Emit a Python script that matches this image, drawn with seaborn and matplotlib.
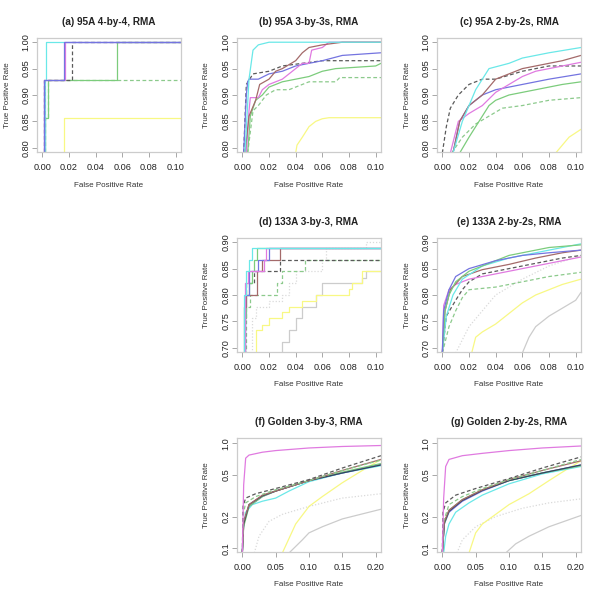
import numpy as np
import pandas as pd
import seaborn as sns
import matplotlib.pyplot as plt
from matplotlib.ticker import FixedLocator, FixedFormatter, NullLocator

sns.set_style("white")
plt.rcParams["font.family"] = ["Liberation Sans", "DejaVu Sans"]

# line styles per method
colors = {
    "cyan": "#6ae8e8", "brown": "#a46a6a", "orchid": "#e07ae0", "blue": "#7474e0",
    "dark": "#34445e", "green": "#7ccc7c", "green_d": "#8cca8c", "black_d": "#5a5a5a",
    "yellow": "#f8f884", "ltgray": "#dadada", "gray": "#cccccc",
}
dashes = {
    "green_d": (3, 2), "black_d": (3, 2), "ltgray": (1, 1.5),
}

# (a) 95A 4-by-4 (step curves)
a_yellow = ([0.016, 0.016, 0.104], [0.78, 0.857, 0.857])
a_green_d = ([0.002, 0.002, 0.004, 0.104], [0.78, 0.857, 0.929, 0.929])
a_green = ([0.0018, 0.0018, 0.004, 0.056, 0.104], [0.78, 0.857, 0.929, 1.0, 1.0])
a_cyan = ([0.002, 0.002, 0.003, 0.104], [0.78, 0.929, 1.0, 1.0])
a_black_d = ([0.0015, 0.0015, 0.022, 0.104], [0.78, 0.929, 1.0, 1.0])
a_orchid = ([0.0012, 0.0012, 0.017, 0.104], [0.78, 0.929, 1.0, 1.0])
a_blue = ([0.001, 0.001, 0.0165, 0.104], [0.78, 0.929, 1.0, 1.0])

# (b) 95A 3-by-3s
b_yellow = ([0.040, 0.041, 0.045, 0.050, 0.055, 0.060, 0.065, 0.104],
            [0.79, 0.805, 0.82, 0.84, 0.85, 0.855, 0.857, 0.857])
b_green_d = ([0.004, 0.008, 0.012, 0.018, 0.025, 0.035, 0.045, 0.050, 0.070, 0.073, 0.104],
             [0.79, 0.87, 0.88, 0.90, 0.91, 0.91, 0.92, 0.925, 0.925, 0.933, 0.933])
b_green = ([0.004, 0.006, 0.010, 0.015, 0.020, 0.030, 0.040, 0.050, 0.060, 0.070, 0.100, 0.104],
           [0.79, 0.86, 0.89, 0.90, 0.915, 0.925, 0.93, 0.935, 0.945, 0.95, 0.955, 0.96])
b_black_d = ([0.001, 0.003, 0.008, 0.020, 0.030, 0.045, 0.060, 0.104],
             [0.79, 0.92, 0.94, 0.945, 0.955, 0.96, 0.965, 0.965])
b_blue = ([0.001, 0.003, 0.004, 0.005, 0.012, 0.020, 0.030, 0.040, 0.050, 0.060, 0.075, 0.104],
          [0.79, 0.90, 0.925, 0.93, 0.93, 0.94, 0.945, 0.955, 0.96, 0.965, 0.975, 0.98])
b_orchid = ([0.003, 0.005, 0.006, 0.012, 0.015, 0.020, 0.030, 0.040, 0.045, 0.050, 0.052, 0.060, 0.065, 0.104],
            [0.79, 0.87, 0.895, 0.895, 0.91, 0.92, 0.93, 0.95, 0.96, 0.96, 0.985, 0.99, 1.0, 1.0])
b_brown = ([0.002, 0.005, 0.010, 0.013, 0.020, 0.025, 0.030, 0.040, 0.045, 0.050, 0.060, 0.075, 0.104],
           [0.79, 0.86, 0.89, 0.92, 0.93, 0.945, 0.95, 0.965, 0.98, 0.99, 0.995, 1.0, 1.0])
b_cyan = ([0.002, 0.005, 0.008, 0.012, 0.020, 0.104],
          [0.79, 0.93, 0.985, 0.995, 1.0, 1.0])

# (c) 95A 2-by-2s
c_yellow = ([0.085, 0.095, 0.104], [0.79, 0.82, 0.835])
c_green_d = ([0.007, 0.015, 0.025, 0.035, 0.045, 0.060, 0.070, 0.080, 0.104],
             [0.79, 0.82, 0.845, 0.86, 0.875, 0.88, 0.885, 0.89, 0.895])
c_green = ([0.013, 0.020, 0.025, 0.030, 0.035, 0.040, 0.050, 0.060, 0.070, 0.080, 0.090, 0.104],
           [0.79, 0.82, 0.84, 0.86, 0.88, 0.89, 0.90, 0.905, 0.91, 0.915, 0.92, 0.925])
c_black_d = ([0.000, 0.003, 0.006, 0.012, 0.020, 0.030, 0.040, 0.060, 0.080, 0.104],
             [0.79, 0.84, 0.875, 0.90, 0.92, 0.93, 0.93, 0.945, 0.955, 0.955])
c_blue = ([0.008, 0.013, 0.020, 0.030, 0.040, 0.060, 0.080, 0.104],
          [0.79, 0.85, 0.88, 0.90, 0.91, 0.92, 0.93, 0.94])
c_orchid = ([0.006, 0.012, 0.020, 0.030, 0.040, 0.050, 0.060, 0.070, 0.080, 0.090, 0.104],
            [0.79, 0.85, 0.865, 0.88, 0.905, 0.92, 0.935, 0.945, 0.95, 0.955, 0.962])
c_brown = ([0.008, 0.013, 0.020, 0.030, 0.040, 0.050, 0.060, 0.070, 0.080, 0.090, 0.104],
           [0.79, 0.85, 0.88, 0.90, 0.93, 0.94, 0.95, 0.955, 0.96, 0.965, 0.975])
c_cyan = ([0.008, 0.015, 0.020, 0.025, 0.030, 0.035, 0.050, 0.060, 0.080, 0.104],
          [0.79, 0.85, 0.88, 0.91, 0.93, 0.95, 0.96, 0.97, 0.98, 0.99])

# (d) 133A 3-by-3 (step curves)
d_ltgray = ([0.005, 0.007, 0.010, 0.020, 0.030, 0.035, 0.040, 0.060, 0.063, 0.093, 0.104],
            [0.69, 0.756, 0.778, 0.789, 0.80, 0.822, 0.845, 0.867, 0.889, 0.90, 0.90])
d_gray = ([0.027, 0.030, 0.035, 0.040, 0.045, 0.055, 0.060, 0.090, 0.093, 0.104],
          [0.69, 0.711, 0.733, 0.756, 0.778, 0.80, 0.822, 0.833, 0.845, 0.845])
d_yellow = ([0.009, 0.010, 0.015, 0.020, 0.030, 0.035, 0.045, 0.055, 0.080, 0.082, 0.090, 0.104],
            [0.69, 0.733, 0.744, 0.756, 0.767, 0.778, 0.789, 0.80, 0.811, 0.822, 0.845, 0.845])
d_green_d = ([0.001, 0.003, 0.006, 0.026, 0.030, 0.047, 0.104],
             [0.69, 0.778, 0.80, 0.822, 0.845, 0.867, 0.867])
d_black_d = ([0.0008, 0.002, 0.003, 0.009, 0.028, 0.104],
             [0.69, 0.80, 0.822, 0.845, 0.867, 0.867])
d_green = ([0.0005, 0.002, 0.003, 0.005, 0.007, 0.009, 0.011, 0.104],
           [0.69, 0.756, 0.80, 0.822, 0.845, 0.867, 0.889, 0.889])
d_brown = ([0.0005, 0.001, 0.003, 0.011, 0.015, 0.028, 0.104],
           [0.69, 0.778, 0.80, 0.845, 0.867, 0.889, 0.889])
d_blue = ([0.001, 0.002, 0.005, 0.012, 0.020, 0.104],
          [0.69, 0.80, 0.845, 0.867, 0.889, 0.889])
d_orchid = ([0.0008, 0.002, 0.004, 0.016, 0.018, 0.104],
            [0.69, 0.822, 0.845, 0.867, 0.889, 0.889])
d_cyan = ([0.0005, 0.001, 0.003, 0.005, 0.007, 0.104],
          [0.69, 0.80, 0.845, 0.867, 0.889, 0.889])

# (e) 133A 2-by-2s
e_gray = ([0.060, 0.065, 0.070, 0.080, 0.090, 0.100, 0.104],
          [0.69, 0.72, 0.74, 0.76, 0.775, 0.79, 0.805])
e_yellow = ([0.022, 0.025, 0.030, 0.040, 0.050, 0.060, 0.070, 0.080, 0.090, 0.104],
            [0.69, 0.72, 0.73, 0.745, 0.765, 0.785, 0.80, 0.81, 0.82, 0.83])
e_ltgray = ([0.010, 0.020, 0.030, 0.040, 0.060, 0.080, 0.104],
            [0.69, 0.74, 0.77, 0.80, 0.83, 0.855, 0.875])
e_green_d = ([0.000, 0.005, 0.010, 0.015, 0.020, 0.040, 0.060, 0.080, 0.104],
             [0.69, 0.74, 0.77, 0.795, 0.81, 0.815, 0.825, 0.835, 0.843])
e_black_d = ([0.000, 0.003, 0.010, 0.015, 0.020, 0.030, 0.050, 0.070, 0.090, 0.104],
             [0.69, 0.76, 0.79, 0.81, 0.825, 0.84, 0.85, 0.86, 0.87, 0.875])
e_orchid = ([0.000, 0.001, 0.005, 0.010, 0.020, 0.030, 0.050, 0.070, 0.090, 0.104],
            [0.69, 0.78, 0.81, 0.82, 0.83, 0.835, 0.845, 0.855, 0.865, 0.872])
e_brown = ([0.000, 0.002, 0.006, 0.015, 0.030, 0.050, 0.070, 0.090, 0.104],
           [0.69, 0.77, 0.81, 0.835, 0.848, 0.858, 0.87, 0.88, 0.885])
e_cyan = ([0.000, 0.003, 0.008, 0.015, 0.030, 0.050, 0.070, 0.090, 0.104],
          [0.69, 0.76, 0.80, 0.83, 0.855, 0.87, 0.88, 0.89, 0.897])
e_green = ([0.000, 0.002, 0.005, 0.010, 0.020, 0.030, 0.040, 0.050, 0.070, 0.080, 0.104],
           [0.69, 0.77, 0.80, 0.825, 0.845, 0.855, 0.865, 0.875, 0.885, 0.89, 0.895])
e_blue = ([0.000, 0.001, 0.005, 0.010, 0.020, 0.040, 0.060, 0.080, 0.104],
          [0.69, 0.77, 0.81, 0.835, 0.85, 0.865, 0.875, 0.88, 0.885])

# (f) Golden 3-by-3 (log y)
f_gray = ([0.070, 0.090, 0.100, 0.120, 0.150, 0.208], [0.09, 0.12, 0.14, 0.16, 0.19, 0.235])
f_ltgray = ([0.018, 0.025, 0.040, 0.060, 0.100, 0.150, 0.208], [0.09, 0.13, 0.18, 0.21, 0.25, 0.30, 0.33])
f_yellow = ([0.060, 0.080, 0.100, 0.120, 0.150, 0.180, 0.208], [0.09, 0.17, 0.25, 0.31, 0.42, 0.55, 0.70])
f_cyan = ([0.000, 0.001, 0.005, 0.015, 0.030, 0.050, 0.070, 0.100, 0.150, 0.208],
          [0.09, 0.15, 0.22, 0.26, 0.28, 0.30, 0.35, 0.43, 0.52, 0.61])
f_blue = ([0.000, 0.002, 0.010, 0.030, 0.050, 0.100, 0.150, 0.208], [0.09, 0.17, 0.25, 0.31, 0.35, 0.44, 0.52, 0.63])
f_green = ([0.000, 0.002, 0.010, 0.030, 0.050, 0.100, 0.150, 0.208], [0.09, 0.16, 0.25, 0.31, 0.35, 0.44, 0.53, 0.64])
f_dark = ([0.000, 0.002, 0.010, 0.030, 0.050, 0.100, 0.150, 0.208], [0.09, 0.17, 0.26, 0.315, 0.35, 0.44, 0.52, 0.62])
f_brown = ([0.000, 0.002, 0.010, 0.030, 0.050, 0.100, 0.150, 0.208], [0.09, 0.18, 0.26, 0.32, 0.35, 0.44, 0.55, 0.70])
f_green_d = ([0.000, 0.002, 0.005, 0.020, 0.050, 0.100, 0.150, 0.208], [0.09, 0.22, 0.27, 0.31, 0.36, 0.44, 0.55, 0.69])
f_black_d = ([0.000, 0.001, 0.005, 0.020, 0.050, 0.100, 0.150, 0.208], [0.09, 0.25, 0.30, 0.33, 0.37, 0.45, 0.58, 0.76])
f_orchid = ([0.000, 0.002, 0.005, 0.010, 0.030, 0.050, 0.100, 0.150, 0.208],
            [0.09, 0.40, 0.72, 0.77, 0.82, 0.85, 0.90, 0.93, 0.95])

# (g) Golden 2-by-2s (log y)
g_gray = ([0.095, 0.110, 0.130, 0.160, 0.208], [0.09, 0.11, 0.13, 0.16, 0.205])
g_ltgray = ([0.022, 0.030, 0.050, 0.080, 0.120, 0.160, 0.208], [0.09, 0.12, 0.16, 0.20, 0.24, 0.27, 0.295])
g_yellow = ([0.040, 0.050, 0.060, 0.080, 0.100, 0.130, 0.160, 0.180, 0.208],
            [0.09, 0.14, 0.17, 0.21, 0.26, 0.33, 0.44, 0.53, 0.68])
g_cyan = ([0.002, 0.005, 0.010, 0.020, 0.040, 0.060, 0.100, 0.150, 0.208],
          [0.09, 0.13, 0.17, 0.22, 0.27, 0.32, 0.41, 0.51, 0.60])
g_blue = ([0.000, 0.003, 0.010, 0.030, 0.060, 0.100, 0.150, 0.208], [0.09, 0.17, 0.22, 0.28, 0.35, 0.44, 0.52, 0.62])
g_green = ([0.000, 0.003, 0.010, 0.030, 0.060, 0.100, 0.150, 0.208], [0.09, 0.17, 0.23, 0.29, 0.36, 0.44, 0.52, 0.61])
g_dark = ([0.000, 0.003, 0.010, 0.030, 0.060, 0.100, 0.150, 0.208], [0.09, 0.175, 0.225, 0.285, 0.355, 0.44, 0.52, 0.62])
g_brown = ([0.000, 0.003, 0.010, 0.030, 0.060, 0.100, 0.150, 0.208], [0.09, 0.18, 0.23, 0.29, 0.36, 0.45, 0.55, 0.68])
g_green_d = ([0.000, 0.002, 0.010, 0.030, 0.060, 0.100, 0.150, 0.208], [0.09, 0.18, 0.26, 0.31, 0.37, 0.45, 0.55, 0.70])
g_black_d = ([0.000, 0.001, 0.005, 0.020, 0.050, 0.100, 0.150, 0.208], [0.09, 0.22, 0.27, 0.32, 0.37, 0.46, 0.58, 0.74])
g_orchid = ([0.000, 0.002, 0.005, 0.010, 0.030, 0.060, 0.100, 0.150, 0.208],
            [0.09, 0.30, 0.60, 0.70, 0.76, 0.80, 0.85, 0.90, 0.94])

panels = [
    ("(a) 95A 4-by-4, RMA", 0, 0, True, False,
     {"yellow": a_yellow, "green_d": a_green_d, "green": a_green, "cyan": a_cyan,
      "black_d": a_black_d, "orchid": a_orchid, "blue": a_blue}),
    ("(b) 95A 3-by-3s, RMA", 0, 1, False, False,
     {"yellow": b_yellow, "green_d": b_green_d, "green": b_green, "black_d": b_black_d,
      "blue": b_blue, "orchid": b_orchid, "brown": b_brown, "cyan": b_cyan}),
    ("(c) 95A 2-by-2s, RMA", 0, 2, False, False,
     {"yellow": c_yellow, "green_d": c_green_d, "green": c_green, "black_d": c_black_d,
      "blue": c_blue, "orchid": c_orchid, "brown": c_brown, "cyan": c_cyan}),
    ("(d) 133A 3-by-3, RMA", 1, 1, True, False,
     {"ltgray": d_ltgray, "gray": d_gray, "yellow": d_yellow, "green_d": d_green_d,
      "black_d": d_black_d, "green": d_green, "brown": d_brown, "blue": d_blue,
      "orchid": d_orchid, "cyan": d_cyan}),
    ("(e) 133A 2-by-2s, RMA", 1, 2, False, False,
     {"gray": e_gray, "yellow": e_yellow, "ltgray": e_ltgray, "green_d": e_green_d,
      "black_d": e_black_d, "orchid": e_orchid, "brown": e_brown, "cyan": e_cyan,
      "green": e_green, "blue": e_blue}),
    ("(f) Golden 3-by-3, RMA", 2, 1, False, True,
     {"gray": f_gray, "ltgray": f_ltgray, "yellow": f_yellow, "cyan": f_cyan,
      "blue": f_blue, "green": f_green, "dark": f_dark, "brown": f_brown,
      "green_d": f_green_d, "black_d": f_black_d, "orchid": f_orchid}),
    ("(g) Golden 2-by-2s, RMA", 2, 2, False, True,
     {"gray": g_gray, "ltgray": g_ltgray, "yellow": g_yellow, "cyan": g_cyan,
      "blue": g_blue, "green": g_green, "dark": g_dark, "brown": g_brown,
      "green_d": g_green_d, "black_d": g_black_d, "orchid": g_orchid}),
]

fig = plt.figure(figsize=(6, 6), dpi=100)
W, H = 600, 600

for title, row, col, steps, golden, series in panels:
    left = 37 + 200 * col
    top = 38 + 200 * row
    ax = fig.add_axes([left / W, 1 - (top + 114) / H, 144 / W, 114 / H])

    for name, (fpr, tpr) in series.items():
        df = pd.DataFrame({"fpr": fpr, "tpr": tpr})
        kw = dict(color=colors[name], linewidth=0.9)
        if name in dashes:
            kw["dashes"] = dashes[name]
        if steps:
            kw["drawstyle"] = "steps-post"
        sns.lineplot(data=df, x="fpr", y="tpr", ax=ax, estimator=None, sort=False, **kw)

    if golden:
        ax.set_yscale("log")
        ax.set_xlim(-0.008, 0.208)
        ax.set_ylim(0.092, 1.12)
        ax.yaxis.set_major_locator(FixedLocator([0.1, 0.2, 0.5, 1.0]))
        ax.yaxis.set_major_formatter(FixedFormatter(["0.1", "0.2", "0.5", "1.0"]))
        ax.yaxis.set_minor_locator(NullLocator())
        ax.set_xticks([0.0, 0.05, 0.10, 0.15, 0.20])
        ax.set_xticklabels(["0.00", "0.05", "0.10", "0.15", "0.20"])
    else:
        ax.set_xlim(-0.004, 0.104)
        ax.set_xticks([0.0, 0.02, 0.04, 0.06, 0.08, 0.10])
        ax.set_xticklabels(["0.00", "0.02", "0.04", "0.06", "0.08", "0.10"])
        if row == 0:
            ax.set_ylim(0.792, 1.008)
            yt = [0.80, 0.85, 0.90, 0.95, 1.00]
        else:
            ax.set_ylim(0.692, 0.908)
            yt = [0.70, 0.75, 0.80, 0.85, 0.90]
        ax.set_yticks(yt)
        ax.set_yticklabels([f"{v:.2f}" for v in yt])

    ax.set_title(title, fontsize=7.2, fontweight="bold", pad=9.5, color="#222222")
    ax.set_xlabel("False Positive Rate", fontsize=5.8, color="#333333")
    ax.set_ylabel("True Positive Rate", fontsize=5.8, color="#333333")
    ax.xaxis.set_label_coords(0.5, -33 / 114)
    ax.xaxis.label.set_va("center")
    ax.yaxis.set_label_coords(-30 / 144, 0.5)
    ax.yaxis.label.set_va("center")
    ax.tick_params(axis="both", direction="out", length=3.5, width=0.6, color="#999999",
                   labelsize=6.6, labelcolor="#222222", bottom=True, left=True)
    ax.tick_params(axis="x", pad=4.5)
    ax.tick_params(axis="y", pad=1.2)
    for lab in ax.get_yticklabels():
        lab.set_rotation(90)
        lab.set_va("center")
    for sp in ax.spines.values():
        sp.set_color("#cccccc")
        sp.set_linewidth(0.9)
    ax.grid(False)

fig.savefig("out.png", dpi=100, facecolor="white")
